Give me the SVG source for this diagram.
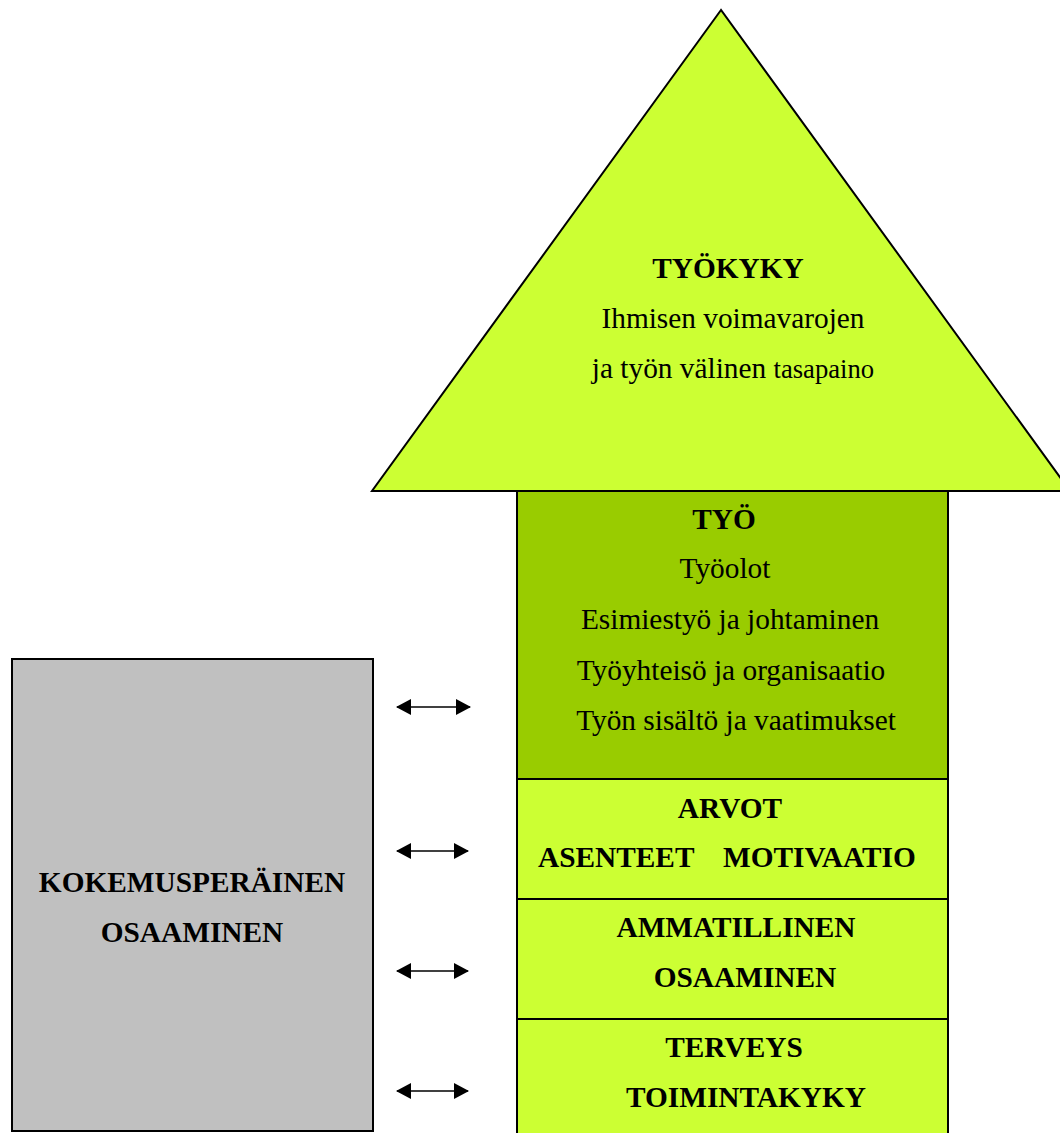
<svg xmlns="http://www.w3.org/2000/svg" width="1060" height="1133" viewBox="0 0 1060 1133">
  <style>
    .shape { stroke: #000; stroke-width: 2; }
    .lime { fill: #CCFF33; }
    .olive { fill: #99CC00; }
    .gray { fill: #C0C0C0; }
    text { font-family: "Liberation Serif", "Times New Roman", serif; font-size: 29.33px; fill: #000; text-anchor: middle; }
    .b { font-weight: bold; }
    .conn { stroke: #000; stroke-width: 1.6; fill: none; }
  </style>
  <defs>
    <marker id="ah" viewBox="0 0 15 16" refX="14" refY="8" markerWidth="15" markerHeight="16" markerUnits="userSpaceOnUse" orient="auto-start-reverse">
      <path d="M0,0 L15,8 L0,16 Z" fill="#000"/>
    </marker>
  </defs>
  <rect width="1060" height="1133" fill="#fff"/>

  <g id="node-tyokyky">
    <polygon class="shape lime" points="721,10 372,491 1070,491"/>
    <text class="b" x="728" y="278">TYÖKYKY</text>
    <text x="733" y="328">Ihmisen voimavarojen</text>
    <text x="733" y="378">ja työn välinen <tspan font-size="26.67px">tasapaino</tspan></text>
  </g>

  <g id="node-tyo">
    <rect class="shape olive" x="517" y="491" width="431" height="288"/>
    <text class="b" x="724" y="529">TYÖ</text>
    <text x="725" y="578">Työolot</text>
    <text x="730" y="629">Esimiestyö ja johtaminen</text>
    <text x="731" y="680">Työyhteisö ja organisaatio</text>
    <text x="736" y="730">Työn sisältö ja vaatimukset</text>
  </g>

  <g id="node-arvot">
    <rect class="shape lime" x="517" y="779" width="431" height="120"/>
    <text class="b" x="730" y="818">ARVOT</text>
    <text class="b" y="867" style="text-anchor:start"><tspan x="538">ASENTEET</tspan><tspan x="723">MOTIVAATIO</tspan></text>
  </g>

  <g id="node-ammatillinen">
    <rect class="shape lime" x="517" y="899" width="431" height="120"/>
    <text class="b" x="736" y="937">AMMATILLINEN</text>
    <text class="b" x="745" y="987">OSAAMINEN</text>
  </g>

  <g id="node-terveys">
    <rect class="shape lime" x="517" y="1019" width="431" height="130"/>
    <text class="b" x="734" y="1057">TERVEYS</text>
    <text class="b" x="746" y="1107">TOIMINTAKYKY</text>
  </g>

  <g id="node-kokemus">
    <rect class="shape gray" x="12" y="659" width="361" height="472"/>
    <text class="b" x="192" y="892">KOKEMUSPERÄINEN</text>
    <text class="b" x="192" y="942">OSAAMINEN</text>
  </g>

  <g id="connectors">
    <line class="conn" x1="397" y1="707" x2="470" y2="707" marker-start="url(#ah)" marker-end="url(#ah)"/>
    <line class="conn" x1="397" y1="851" x2="468" y2="851" marker-start="url(#ah)" marker-end="url(#ah)"/>
    <line class="conn" x1="397" y1="971" x2="468" y2="971" marker-start="url(#ah)" marker-end="url(#ah)"/>
    <line class="conn" x1="397" y1="1091" x2="468" y2="1091" marker-start="url(#ah)" marker-end="url(#ah)"/>
  </g>
</svg>
